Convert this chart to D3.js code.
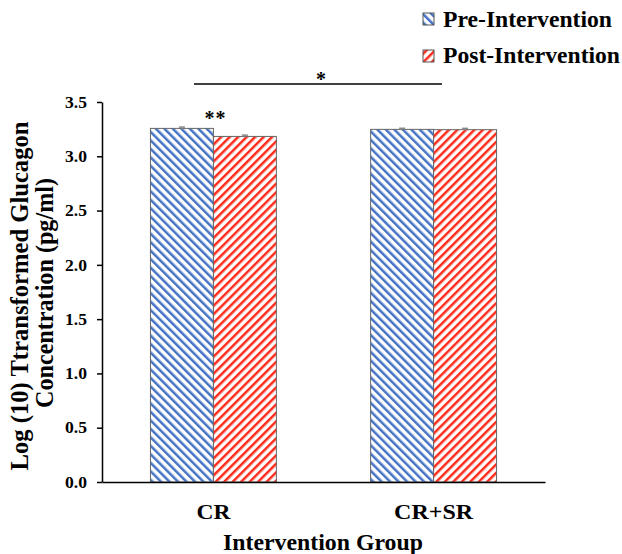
<!DOCTYPE html>
<html><head><meta charset="utf-8">
<script src="https://cdn.jsdelivr.net/npm/d3@7"></script>
<style>body{margin:0;background:#fff}svg{display:block}text{font-family:"Liberation Serif","Times New Roman",serif;font-weight:bold}</style>
</head><body><svg id="c" width="622" height="554"></svg>
<script>
const categories = ["CR", "CR+SR"];
const seriesNames = ["Pre-Intervention", "Post-Intervention"];
const preValues = [3.257, 3.248];
const postValues = [3.183, 3.245];
const preErrors = [0.012, 0.010];
const postErrors = [0.012, 0.012];
const yTicks = [0, 0.5, 1.0, 1.5, 2.0, 2.5, 3.0, 3.5];
const colors = ["#4472C4", "#FF2A1A"];

const svg = d3.select("#c");
const defs = svg.append("defs");
function hatch(id, color, angle){
  const p = defs.append("pattern").attr("id", id).attr("patternUnits","userSpaceOnUse")
    .attr("width", 6).attr("height", 6).attr("patternTransform", `rotate(${angle})`);
  p.append("rect").attr("width",6).attr("height",6).attr("fill","#fff");
  p.append("rect").attr("x",0).attr("y",0).attr("width",2.5).attr("height",6).attr("fill",color);
}
hatch("hPre", colors[0], -45);
hatch("hPost", colors[1], 45);

const x0 = 102, x1 = 545, yTop = 102, yBot = 482;
const y = d3.scaleLinear().domain([0, 3.5]).range([yBot, yTop]);
const xg = d3.scaleBand().domain(categories).range([x0, x1]).paddingInner(0.428).paddingOuter(0.22);
const xs = d3.scaleBand().domain(seriesNames).range([0, xg.bandwidth()]);

const rows = categories.map((c,i)=>({c, vals:[preValues[i], postValues[i]], errs:[preErrors[i], postErrors[i]]}));

const g = svg.append("g");
rows.forEach(r=>{
  r.vals.forEach((v,j)=>{
    const bx = xg(r.c) + xs(seriesNames[j]);
    g.append("rect").attr("x", bx).attr("y", y(v)).attr("width", xs.bandwidth()).attr("height", yBot - y(v))
      .attr("fill", j===0?"url(#hPre)":"url(#hPost)").attr("stroke","#666").attr("stroke-width",1);
    const cx = bx + xs.bandwidth()/2;
    const e = r.errs[j];
    g.append("line").attr("x1",cx).attr("x2",cx).attr("y1",y(v+e)).attr("y2",y(v-e)).attr("stroke","#888").attr("stroke-width",1.2);
    g.append("line").attr("x1",cx-3).attr("x2",cx+3).attr("y1",y(v+e)).attr("y2",y(v+e)).attr("stroke","#888").attr("stroke-width",1.5);
  });
});

// axes
const ya = d3.axisLeft(y).tickValues(yTicks).tickFormat(d3.format(".1f")).tickSize(5).tickSizeOuter(0);
const yg = svg.append("g").attr("transform",`translate(${x0},0)`).call(ya);
yg.select(".domain").attr("stroke","#000").attr("stroke-width",1.5);
yg.selectAll(".tick line").attr("stroke","#000").attr("stroke-width",1.5);
yg.selectAll(".tick text").attr("font-size",16.5).attr("font-family",'"Liberation Serif",serif').attr("font-weight","bold").attr("fill","#000")
  .attr("x",-15).attr("textLength",22).attr("lengthAdjust","spacingAndGlyphs");

const xa = d3.axisBottom(xg).tickSize(0).tickSizeOuter(0);
const xgG = svg.append("g").attr("transform",`translate(0,${yBot})`).call(xa);
xgG.select(".domain").attr("stroke","#000").attr("stroke-width",1.5);
const catLen = {"CR":34, "CR+SR":79};
xgG.selectAll(".tick text").attr("font-size",21).attr("font-family",'"Liberation Serif",serif').attr("font-weight","bold").attr("fill","#000")
  .attr("dy",0).attr("y",37).attr("textLength",d=>catLen[d]).attr("lengthAdjust","spacingAndGlyphs");

// axis titles
svg.append("text").attr("x", 323).attr("y", 550).attr("text-anchor","middle").attr("font-size",23)
  .attr("textLength",200).attr("lengthAdjust","spacingAndGlyphs").text("Intervention Group");
svg.append("text").attr("transform","translate(28,296) rotate(-90)").attr("text-anchor","middle").attr("font-size",24.5)
  .attr("textLength",349).attr("lengthAdjust","spacingAndGlyphs").text("Log (10) Ttransformed Glucagon");
svg.append("text").attr("transform","translate(53,293) rotate(-90)").attr("text-anchor","middle").attr("font-size",24.5)
  .attr("textLength",230).attr("lengthAdjust","spacingAndGlyphs").text("Concentration (pg/ml)");

// significance
svg.append("line").attr("x1",194).attr("x2",442).attr("y1",84).attr("y2",84).attr("stroke","#000").attr("stroke-width",1.5);
svg.append("text").attr("x",321).attr("y",86).attr("text-anchor","middle").attr("font-size",20).attr("font-weight","normal").text("*");
svg.append("text").attr("x",215.5).attr("y",125).attr("text-anchor","middle").attr("font-size",20).attr("font-weight","normal").attr("letter-spacing",1).text("**");

// legend
const legLen = [169, 177];
seriesNames.forEach((n,i)=>{
  svg.append("rect").attr("x",423).attr("y",13 + i*37).attr("width",11).attr("height",12)
    .attr("fill", i===0?"url(#hPre)":"url(#hPost)").attr("stroke","#555").attr("stroke-width",1);
  svg.append("text").attr("x",443).attr("y",27 + i*36).attr("font-size",23).attr("fill","#000")
    .attr("textLength",legLen[i]).attr("lengthAdjust","spacingAndGlyphs").text(n);
});
</script></body></html>
